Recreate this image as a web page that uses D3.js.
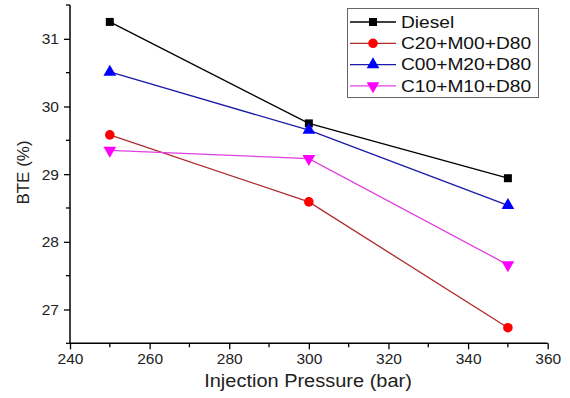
<!DOCTYPE html>
<html><head><meta charset="utf-8">
<script src="https://cdn.jsdelivr.net/npm/d3@7"></script>
<style>body{margin:0;background:#fff;} svg{display:block;font-family:"Liberation Sans",Arial,sans-serif;}</style>
</head><body>
<svg id="c" width="570" height="398"></svg>
<script>
const pressures = [250, 300, 350];
const seriesNames = ["Diesel", "C20+M00+D80", "C00+M20+D80", "C10+M10+D80"];
const diesel = [31.25, 29.75, 28.94];
const c20m00 = [29.58, 28.59, 26.73];
const c00m20 = [30.51, 29.65, 28.54];
const c10m10 = [29.35, 29.23, 27.66];
const xTicks = [240, 260, 280, 300, 320, 340, 360];
const yTicks = [27, 28, 29, 30, 31];

const styles = [
  {line:"#000000", fill:"#000000", sym:d3.symbolSquare, size:64, rot:0},
  {line:"#b02a2a", fill:"#ff0000", sym:d3.symbolCircle, size:72, rot:0},
  {line:"#1a1aa8", fill:"#0000ff", sym:d3.symbolTriangle, size:70, rot:0},
  {line:"#e040e0", fill:"#ff00ff", sym:d3.symbolTriangle, size:70, rot:180}
];
const data = [diesel, c20m00, c00m20, c10m10];

const svg = d3.select("#c");
const x = d3.scaleLinear().domain([240, 360]).range([70, 547.7]);
const y = d3.scaleLinear().domain([26.5, 31.5]).range([343.3, 5]);

// axes
const gx = svg.append("g").attr("transform", `translate(0,${y(26.5)})`);
gx.call(d3.axisBottom(x).tickValues(xTicks).tickSize(6).tickSizeOuter(0).tickPadding(4).tickFormat(d3.format("d")));
gx.append("g").selectAll("line").data(d3.range(250, 360, 20)).join("line")
  .attr("x1", d => x(d)).attr("x2", d => x(d)).attr("y1", 0).attr("y2", 4).attr("stroke", "#000").attr("stroke-width", 1.3);

const gy = svg.append("g").attr("transform", `translate(${x(240)},0)`);
gy.call(d3.axisLeft(y).tickValues(yTicks).tickSize(6).tickSizeOuter(0).tickPadding(5).tickFormat(d3.format("d")));
gy.append("g").selectAll("line").data([26.5, 27.5, 28.5, 29.5, 30.5, 31.5]).join("line")
  .attr("y1", d => y(d)).attr("y2", d => y(d)).attr("x1", 0).attr("x2", -4).attr("stroke", "#000").attr("stroke-width", 1.3);

[gx, gy].forEach(g => {
  g.select(".domain").attr("stroke", "#000").attr("stroke-width", 1.5);
  g.selectAll(".tick line").attr("stroke", "#000").attr("stroke-width", 1.3);
  g.selectAll("text").attr("font-size", 15.5).attr("fill", "#222").attr("font-family", "Liberation Sans, Arial, sans-serif");
});
gy.select(".domain").attr("d", `M0,${y(26.5)}V${y(31.5)}`);
gx.select(".domain").attr("d", `M${x(240)},0H${x(360)}`);

// axis titles
svg.append("text").attr("transform", "translate(308,387) scale(1.08,1)").attr("text-anchor", "middle")
  .attr("font-size", 18.5).attr("fill", "#222").text("Injection Pressure (bar)");
svg.append("text").attr("transform", `translate(28.5,172.5) rotate(-90)`).attr("text-anchor", "middle")
  .attr("font-size", 17).attr("fill", "#222").text("BTE (%)");

// series
const line = d3.line().x((d, i) => x(pressures[i])).y(d => y(d));
data.forEach((vals, k) => {
  const s = styles[k];
  svg.append("path").attr("d", line(vals)).attr("fill", "none").attr("stroke", s.line).attr("stroke-width", 1.3);
  svg.append("g").selectAll("path").data(vals).join("path")
    .attr("d", d3.symbol().type(s.sym).size(s.size))
    .attr("transform", (d, i) => `translate(${x(pressures[i])},${y(d)}) rotate(${s.rot})`)
    .attr("fill", s.fill);
});

// legend
const lg = svg.append("g");
lg.append("rect").attr("x", 347.5).attr("y", 8.5).attr("width", 191).attr("height", 89)
  .attr("fill", "#fff").attr("stroke", "#666").attr("stroke-width", 1);
seriesNames.forEach((name, k) => {
  const s = styles[k];
  const yy = 22 + k * 21.3;
  lg.append("line").attr("x1", 350).attr("x2", 396).attr("y1", yy).attr("y2", yy).attr("stroke", s.line).attr("stroke-width", 1.3);
  lg.append("path").attr("d", d3.symbol().type(s.sym).size(s.size)())
    .attr("transform", `translate(373,${yy}) rotate(${s.rot})`).attr("fill", s.fill);
  lg.append("text").attr("transform", `translate(401,${yy + 5.8}) scale(1.2,1)`)
    .attr("font-size", 16).attr("fill", "#111").text(name);
});
</script>
</body></html>
